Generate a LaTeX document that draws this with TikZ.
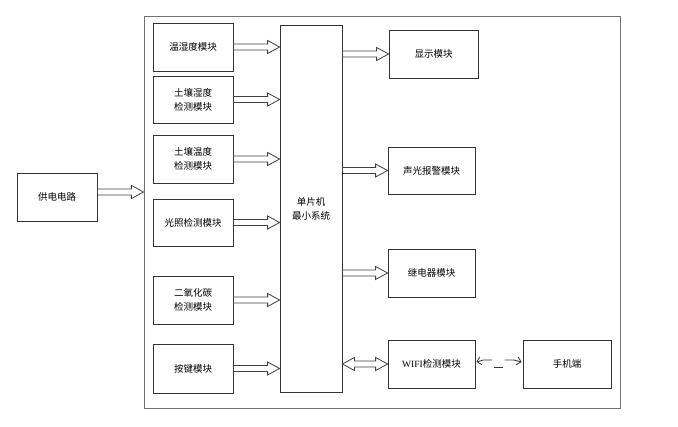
\documentclass[tikz,border=0pt]{standalone}
\usepackage{fontspec}
\setmainfont{Liberation Serif}
\newfontfamily\cjk{Noto Sans CJK SC}
\usetikzlibrary{calc,arrows.meta}
\tikzset{
  box/.style={draw=black!80, line width=0.8pt, inner sep=0pt, align=center,
    font=\cjk\fontsize{9.5}{14}\selectfont},
  blk/.style={draw=black!75, line width=0.8pt, fill=white,
    to path={let \p1=(\tikztostart), \p2=(\tikztotarget) in
      (\x1,\y1+3pt) -- (\x2-12pt,\y1+3pt) -- (\x2-12pt,\y1+6.5pt) -- (\x2,\y1)
      -- (\x2-12pt,\y1-6.5pt) -- (\x2-12pt,\y1-3pt) -- (\x1,\y1-3pt) -- cycle}},
  blkboth/.style={draw=black!75, line width=0.8pt, fill=white,
    to path={let \p1=(\tikztostart), \p2=(\tikztotarget) in
      (\x1,\y1) -- (\x1+12pt,\y1+6.5pt) -- (\x1+12pt,\y1+3pt) -- (\x2-12pt,\y1+3pt)
      -- (\x2-12pt,\y1+6.5pt) -- (\x2,\y1) -- (\x2-12pt,\y1-6.5pt) -- (\x2-12pt,\y1-3pt)
      -- (\x1+12pt,\y1-3pt) -- (\x1+12pt,\y1-6.5pt) -- cycle}},
  bolt/.style={draw=black!80, line width=0.8pt},
  barb/.tip={Straight Barb[length=4pt,width=8pt]}
}
\begin{document}
\begin{tikzpicture}[x=1pt,y=-1pt]
\useasboundingbox (0,0) rectangle (678,427);
% outer frame
\node[draw=black!55, line width=0.9pt, minimum width=476pt, minimum height=392pt, inner sep=0pt] (frame) at (382,212) {};
% power
\node[box, minimum width=80pt, minimum height=48pt] (gd) at (57,197) {供电电路};
% left column
\node[box, minimum width=80pt, minimum height=48pt] (a1) at (193,47) {温湿度模块};
\node[box, minimum width=80pt, minimum height=47pt] (a2) at (193,99.5) {土壤湿度\\检测模块};
\node[box, minimum width=80pt, minimum height=48pt] (a3) at (193,159) {土壤温度\\检测模块};
\node[box, minimum width=80pt, minimum height=47pt] (a4) at (193,222.5) {光照检测模块};
\node[box, minimum width=80pt, minimum height=48pt] (a5) at (193,300) {二氧化碳\\检测模块};
\node[box, minimum width=80pt, minimum height=49pt] (a6) at (193,368.5) {按键模块};
% MCU
\node[box, minimum width=62pt, minimum height=367pt] (mcu) at (311,208.5) {单片机\\最小系统};
% right column
\node[box, minimum width=89pt, minimum height=48pt] (b1) at (433.5,54) {显示模块};
\node[box, minimum width=87pt, minimum height=47pt] (b2) at (431.5,170.5) {声光报警模块};
\node[box, minimum width=87pt, minimum height=48pt] (b3) at (431.5,273) {继电器模块};
\node[box, minimum width=87pt, minimum height=48pt] (b4) at (431.5,364) {{\rmfamily WIFI}检测模块};
\node[box, minimum width=88pt, minimum height=48pt] (ph) at (567,364) {手机端};
% arrows
\path[blk] ([yshift=5pt]gd.east) to ([yshift=5pt]gd.east -| frame.west);
\foreach \nd in {a1,a2,a3,a4,a5,a6}
  \path[blk] (\nd.east) to (\nd.east -| mcu.west);
\foreach \nd in {b1,b2,b3}
  \path[blk] (mcu.east |- \nd.west) to (\nd.west);
\path[blkboth] (mcu.east |- b4.west) to (b4.west);
% wireless link
\coordinate (w1) at ($(b4.east)+(8,-4)$);
\coordinate (w2) at ($(b4.east)+(17,-4)$);
\coordinate (w3) at ($(b4.east)+(19,3)$);
\coordinate (w4) at ($(ph.west)+(-20,3)$);
\coordinate (w5) at ($(ph.west)+(-18,-4)$);
\coordinate (w6) at ($(ph.west)+(-9,-4)$);
\draw[bolt, barb-] ([xshift=1pt,yshift=2pt]b4.east) -- (w1) -- (w2);
\draw[bolt] (w3) -- (w4);
\draw[bolt, -barb] (w5) -- (w6) -- ([xshift=-1pt,yshift=2pt]ph.west);
\end{tikzpicture}
\end{document}
